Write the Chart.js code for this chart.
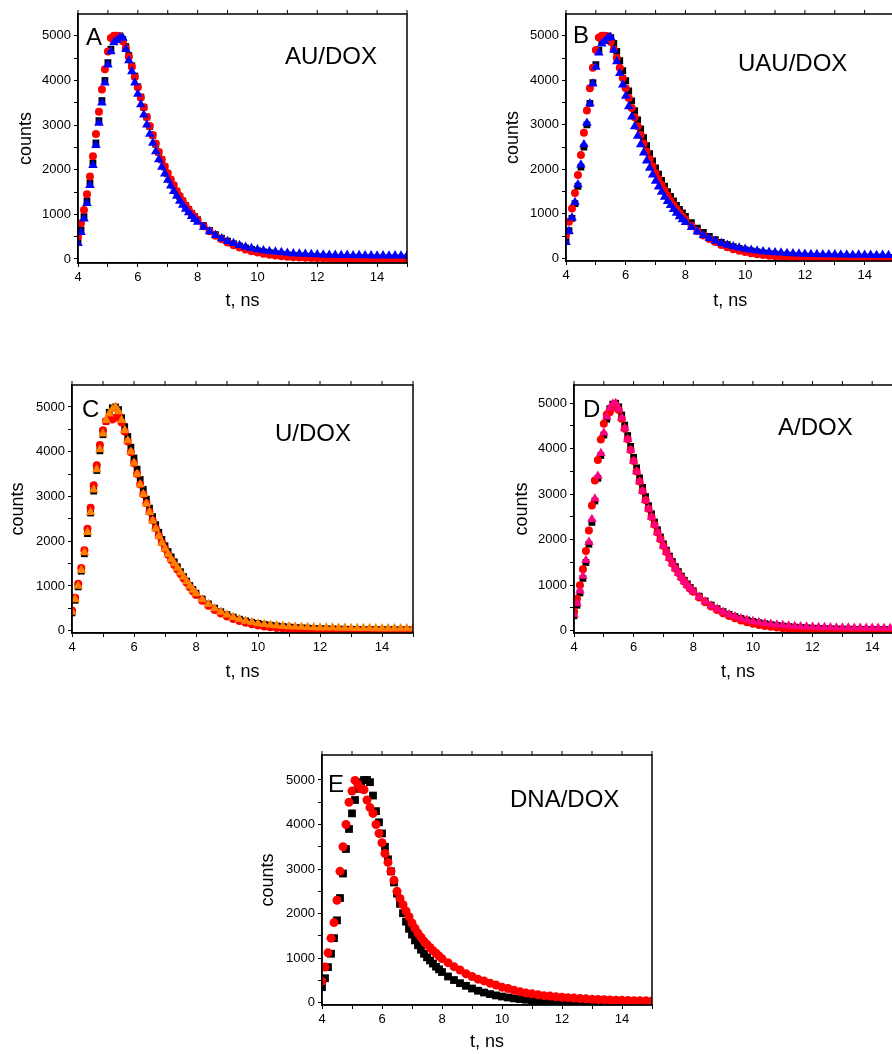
<!DOCTYPE html>
<html lang="en">
<head>
<meta charset="UTF-8">
<title>DOX fluorescence decays</title>
<script src="https://cdn.jsdelivr.net/npm/chart.js"></script>
<style>
  html, body { margin: 0; padding: 0; overflow: hidden; background: #fff; }
  canvas { position: absolute; }
</style>
</head>
<body>
<canvas id="panelA" width="420" height="320" style="left:0;top:0"></canvas>
<canvas id="panelB" width="420" height="320" style="left:480px;top:0"></canvas>
<canvas id="panelC" width="420" height="320" style="left:0;top:370px"></canvas>
<canvas id="panelD" width="430" height="320" style="left:480px;top:370px"></canvas>
<canvas id="panelE" width="420" height="314" style="left:250px;top:740px"></canvas>

<script>
// tick positions
const X_TICKS = [4,5,6,7,8,9,10,11,12,13,14,15];
const Y_TICKS = [0,500,1000,1500,2000,2500,3000,3500,4000,4500,5000];

// time axis, ns (shared by all panels)
const T = [4.0,4.1,4.2,4.3,4.4,4.5,4.6,4.7,4.8,4.9,
  5.0,5.1,5.2,5.3,5.4,5.5,5.6,5.7,5.8,5.9,
  6.0,6.1,6.2,6.3,6.4,6.5,6.6,6.7,6.8,6.9,
  7.0,7.1,7.2,7.3,7.4,7.5,7.6,7.7,7.8,7.9,
  8.0,8.2,8.4,8.6,8.8,9.0,9.2,9.4,9.6,9.8,
  10.0,10.2,10.4,10.6,10.8,11.0,11.2,11.4,11.6,11.8,
  12.0,12.2,12.4,12.6,12.8,13.0,13.2,13.4,13.6,13.8,
  14.0,14.2,14.4,14.6,14.8,15.0];

// A: AU/DOX
const aBlack = [400,650,950,1300,1700,2150,2600,3100,3550,4000,
  4400,4700,4900,4990,5000,4920,4760,4560,4330,4100,
  3860,3630,3400,3180,2970,2770,2570,2390,2220,2060,
  1910,1770,1640,1520,1400,1300,1200,1110,1020,950,
  880,750,640,545,465,400,340,290,250,215,
  185,160,140,120,105,92,80,70,62,55,
  49,44,40,37,34,32,30,28,27,26,
  25,24,24,23,23,22];
const aRed = [500,800,1100,1450,1850,2300,2800,3300,3800,4250,
  4650,4950,5000,5000,4980,4880,4720,4530,4310,4080,
  3850,3620,3400,3180,2980,2780,2590,2400,2230,2070,
  1920,1780,1650,1520,1410,1300,1200,1110,1020,940,
  870,735,620,520,440,370,305,255,210,175,
  145,118,96,78,62,50,40,32,25,20,
  15,12,10,8,6,5,4,4,3,3,
  2,2,2,1,1,1];
const aBlue = [350,600,900,1250,1650,2100,2550,3050,3500,3950,
  4350,4650,4850,4900,4960,4950,4700,4450,4200,3950,
  3700,3460,3230,3010,2800,2600,2410,2230,2060,1910,
  1770,1640,1520,1410,1300,1210,1120,1040,960,890,
  830,715,615,530,460,400,350,305,270,240,
  215,190,175,160,150,135,125,120,110,105,
  100,95,92,90,85,88,80,82,78,80,
  75,78,72,76,70,74];

// B: UAU/DOX
const bBlack = [380,620,900,1230,1620,2050,2500,3000,3480,3950,
  4350,4680,4880,4980,5000,4960,4830,4650,4440,4220,
  3990,3760,3540,3320,3110,2910,2710,2530,2350,2190,
  2030,1890,1750,1620,1500,1390,1290,1190,1100,1020,
  940,800,680,580,495,420,360,305,262,225,
  192,165,142,122,106,92,80,70,62,55,
  49,44,40,37,34,32,30,28,27,26,
  25,24,24,23,23,22];
const bRed = [520,820,1120,1470,1870,2320,2820,3320,3820,4280,
  4680,4960,5000,5000,4970,4860,4700,4500,4280,4050,
  3820,3600,3380,3170,2970,2770,2580,2400,2230,2070,
  1920,1780,1650,1530,1410,1300,1200,1110,1020,940,
  870,730,615,515,435,365,300,250,205,170,
  140,114,92,74,60,48,38,30,24,19,
  15,12,10,8,6,5,4,4,3,3,
  2,2,2,1,1,1];
const bBlue = [360,610,910,1260,1660,2100,2560,3040,3480,3920,
  4300,4620,4820,4880,4950,4960,4680,4420,4160,3900,
  3650,3410,3180,2960,2750,2560,2370,2190,2030,1880,
  1740,1610,1490,1380,1280,1190,1100,1020,940,870,
  810,700,600,520,450,390,340,300,265,235,
  210,188,170,156,145,132,124,116,108,102,
  98,93,90,86,84,86,79,81,77,78,
  74,77,71,75,70,73];

// C: U/DOX
const cBlack = [400,680,980,1330,1720,2170,2630,3120,3580,4020,
  4380,4680,4880,4980,5000,4940,4760,4560,4340,4100,
  3860,3610,3380,3160,2940,2740,2550,2370,2200,2040,
  1900,1770,1650,1540,1430,1320,1210,1110,1010,920,
  840,710,600,505,425,360,305,258,220,190,
  165,143,124,108,95,84,74,66,59,53,
  48,44,40,37,34,32,30,28,27,26,
  25,24,23,23,22,22];
const cRed = [450,740,1050,1400,1800,2280,2750,3250,3700,4150,
  4480,4680,4760,4720,4760,4800,4650,4450,4230,3990,
  3740,3500,3270,3050,2850,2660,2470,2290,2120,1970,
  1830,1700,1580,1470,1370,1270,1170,1070,970,880,
  800,670,560,465,385,320,265,218,178,145,
  118,96,78,63,51,41,33,27,22,18,
  14,11,9,7,6,5,4,3,3,2,
  2,2,1,1,1,1];
const cOrange = [420,700,1000,1350,1750,2200,2650,3150,3600,4050,
  4400,4700,4850,4950,5000,4900,4700,4480,4250,4000,
  3750,3500,3270,3050,2840,2650,2460,2280,2110,1960,
  1830,1710,1600,1500,1400,1300,1200,1100,1000,910,
  830,700,590,500,420,355,300,255,218,188,
  165,145,128,115,104,95,88,82,77,73,
  70,67,65,62,60,58,57,55,54,53,
  52,51,50,50,49,48];

// D: A/DOX
const dBlack = [330,560,830,1150,1500,1900,2380,2850,3350,3850,
  4300,4650,4880,4980,5000,4920,4740,4520,4290,4050,
  3810,3580,3360,3150,2950,2750,2570,2390,2220,2060,
  1910,1770,1640,1520,1410,1300,1200,1110,1030,950,
  880,760,655,565,485,420,362,312,270,235,
  205,178,155,135,118,103,90,80,71,63,
  56,50,45,41,38,35,33,31,29,28,
  27,26,25,25,24,24];
const dRed = [420,700,1000,1350,1750,2200,2750,3300,3750,4200,
  4550,4750,4800,4900,4950,4850,4660,4440,4210,3970,
  3730,3500,3280,3070,2870,2680,2500,2330,2160,2010,
  1860,1730,1600,1480,1370,1270,1170,1080,1000,925,
  855,730,625,535,455,385,325,272,226,187,
  155,127,104,85,69,56,45,36,29,23,
  18,14,11,9,7,6,5,4,3,3,
  2,2,2,1,1,1];
const dPink = [350,600,880,1200,1550,1950,2450,2900,3400,3900,
  4350,4700,4900,4980,5000,4880,4680,4450,4210,3970,
  3730,3500,3280,3070,2870,2680,2500,2330,2160,2010,
  1860,1730,1600,1480,1370,1270,1170,1080,1000,930,
  860,740,640,550,475,410,355,310,270,238,
  210,185,165,148,133,120,110,100,93,87,
  82,78,74,71,68,66,64,62,61,60,
  59,58,57,57,56,56];

// E: DNA/DOX
const eBlack = [350,550,800,1100,1450,1850,2350,2900,3450,3900,
  4250,4550,4800,4950,5000,5000,4950,4650,4300,4050,
  3800,3500,3220,2950,2700,2450,2220,2010,1820,1660,
  1530,1400,1290,1190,1100,1020,950,880,810,750,
  690,590,510,440,380,320,270,230,195,165,
  140,118,98,82,68,56,46,38,31,25,
  20,16,13,11,9,8,7,6,5,5,
  4,4,3,3,3,3];
const eRed = [480,800,1120,1450,1800,2300,2950,3500,4000,4500,
  4750,4990,4900,4800,4780,4550,4380,4250,4000,3800,
  3590,3350,3150,2950,2750,2500,2340,2200,2060,1930,
  1790,1670,1560,1470,1380,1310,1240,1170,1110,1050,
  990,900,810,735,650,590,530,490,440,400,
  350,320,280,250,220,200,180,160,150,135,
  125,115,105,95,88,80,74,68,63,58,
  54,50,47,45,43,40];

Chart.defaults.font.family = '"Liberation Sans", Arial, sans-serif';
Chart.defaults.color = '#000';

// box round the plot, mirrored ticks on top, panel letter and sample name
const frame = {
  id: 'frame',
  afterDraw(chart, args, opts) {
    const ctx = chart.ctx;
    const a = chart.chartArea;
    const x = chart.scales.x;
    ctx.save();
    ctx.strokeStyle = '#000';
    ctx.lineWidth = 1.5;
    ctx.strokeRect(a.left, a.top, a.right - a.left, a.bottom - a.top);
    ctx.lineWidth = 1;
    x.ticks.forEach(t => {
      const px = x.getPixelForValue(t.value);
      ctx.beginPath();
      ctx.moveTo(px, a.top);
      ctx.lineTo(px, a.top - 4);
      ctx.stroke();
    });
    ctx.fillStyle = '#000';
    ctx.font = '24px "Liberation Sans", Arial, sans-serif';
    ctx.textBaseline = 'alphabetic';
    ctx.fillText(opts.letter, a.left + opts.lx, a.top + opts.ly);
    ctx.fillText(opts.name, a.left + opts.nx, a.top + opts.ny);
    ctx.restore();
  }
};

function series(values, color, style, r) {
  return {
    data: T.map((t, i) => ({ x: t, y: values[i] })),
    backgroundColor: color,
    borderColor: color,
    pointStyle: style,
    pointRadius: r,
    pointBorderWidth: 0,
    showLine: false
  };
}

function makePanel(id, p) {
  new Chart(document.getElementById(id), {
    type: 'scatter',
    data: { datasets: p.datasets },
    options: {
      responsive: false,
      animation: false,
      layout: { padding: { top: p.padTop, right: p.padRight, left: 0, bottom: 0 } },
      plugins: {
        legend: { display: false },
        tooltip: { enabled: false },
        frame: { letter: p.letter, lx: p.lx, ly: p.ly, name: p.name, nx: p.nx, ny: p.ny }
      },
      scales: {
        x: {
          type: 'linear', min: 4, max: 15,
          border: { display: true, color: '#000', width: 1.5 },
          grid: { drawOnChartArea: false, drawTicks: true, tickLength: 4, tickColor: '#000' },
          afterBuildTicks: s => { s.ticks = X_TICKS.map(v => ({ value: v })); },
          ticks: {
            autoSkip: false, padding: 3, maxRotation: 0,
            font: { size: 13 },
            callback: v => (v % 2 === 0 && v < 15) ? String(v) : ''
          },
          title: { display: true, text: 't, ns', font: { size: 18 }, padding: { top: 0, bottom: p.xtPad } },
          afterFit: s => { s.height = p.xh; }
        },
        y: {
          min: p.ymin, max: p.ymax,
          border: { display: true, color: '#000', width: 1.5 },
          grid: { drawOnChartArea: false, drawTicks: true, tickLength: 4, tickColor: '#000' },
          afterBuildTicks: s => { s.ticks = Y_TICKS.map(v => ({ value: v })); },
          ticks: {
            autoSkip: false, padding: 3,
            font: { size: 13 },
            callback: v => Math.round(v) % 1000 === 0 ? String(Math.round(v)) : ''
          },
          title: { display: true, text: 'counts', font: { size: 18 }, padding: { top: p.ytPad, bottom: 0 } },
          afterFit: s => { s.width = p.yw; }
        }
      }
    },
    plugins: [frame]
  });
}

makePanel('panelA', {
  datasets: [
    series(aBlue, '#0000ff', 'triangle', 5.5),
    series(aRed, '#ff0000', 'circle', 4),
    series(aBlack, '#000000', 'rect', 4.8)
  ],
  yw: 78, xh: 57, padTop: 14, padRight: 13, ymin: -90, ymax: 5490, ytPad: 15.2, xtPad: 8.2,
  letter: 'A', lx: 8, ly: 31, name: 'AU/DOX', nx: 207, ny: 50
});

makePanel('panelB', {
  datasets: [
    series(bBlue, '#0000ff', 'triangle', 5.5),
    series(bRed, '#ff0000', 'circle', 4),
    series(bBlack, '#000000', 'rect', 4.8)
  ],
  yw: 86, xh: 59, padTop: 14, padRight: 5, ymin: -60, ymax: 5490, ytPad: 22.2, xtPad: 8.2,
  letter: 'B', lx: 7, ly: 29, name: 'UAU/DOX', nx: 172, ny: 57
});

makePanel('panelC', {
  datasets: [
    series(cOrange, '#ff8000', 'triangle', 5.5),
    series(cRed, '#ff0000', 'circle', 4),
    series(cBlack, '#000000', 'rect', 4.8)
  ],
  yw: 72, xh: 57, padTop: 15, padRight: 7, ymin: -50, ymax: 5490, ytPad: 7.2, xtPad: 7.2,
  letter: 'C', lx: 10, ly: 32, name: 'U/DOX', nx: 203, ny: 56
});

makePanel('panelD', {
  datasets: [
    series(dPink, '#ff0080', 'triangle', 5.5),
    series(dRed, '#ff0000', 'circle', 4),
    series(dBlack, '#000000', 'rect', 4.8)
  ],
  yw: 94, xh: 57, padTop: 15, padRight: 8, ymin: -50, ymax: 5400, ytPad: 31.2, xtPad: 7.2,
  letter: 'D', lx: 9, ly: 32, name: 'A/DOX', nx: 204, ny: 50
});

makePanel('panelE', {
  datasets: [
    series(eRed, '#ff0000', 'circle', 4.5),
    series(eBlack, '#000000', 'rect', 5.5)
  ],
  yw: 72, xh: 49, padTop: 15, padRight: 18, ymin: -50, ymax: 5560, ytPad: 7.2, xtPad: 1.5,
  letter: 'E', lx: 6, ly: 37, name: 'DNA/DOX', nx: 188, ny: 52
});
</script>
</body>
</html>
